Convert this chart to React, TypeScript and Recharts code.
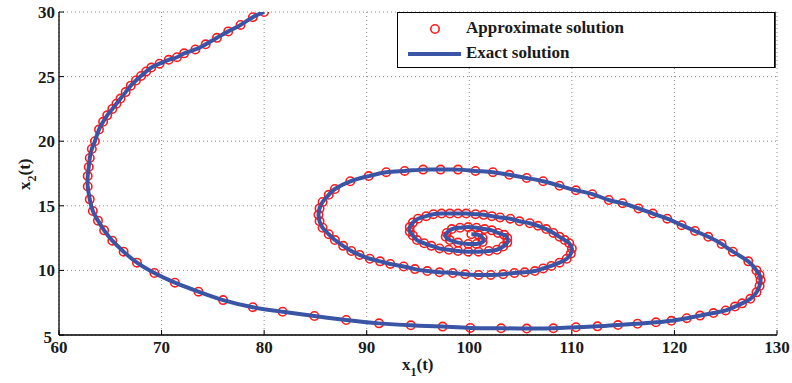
import React from "react";
import {
  CartesianGrid,
  Label,
  Legend,
  Scatter,
  ScatterChart,
  XAxis,
  YAxis,
} from "recharts";

// x1(t) and x2(t), in time order
const x1Values = [
  80, 78.9, 77.7, 76.5, 75.4, 74.3, 73.3, 72.2, 71.5, 70.7, 69.8, 69.0, 68.5, 68.0, 67.5, 67.0,
  66.5, 66.0, 65.6, 65.2, 64.7, 64.3, 63.9, 63.5, 63.2, 63.0, 62.9, 62.8, 62.8, 63.0, 63.3, 63.8,
  64.4, 65.2, 66.3, 67.6, 69.3, 71.3, 73.6, 76.0, 78.9, 81.8, 84.9, 88.0, 91.2, 94.3, 97.4, 100.1,
  103.1, 105.6, 108.2, 110.4, 112.5, 114.5, 116.4, 118.2, 119.7, 121.2, 122.5, 123.8, 125.0, 125.9,
  126.6, 127.4, 128.0, 128.3, 128.4, 128.3, 128.0, 127.2, 125.7, 124.6, 123.3, 122.0, 120.7, 119.3,
  117.9, 116.5, 114.95, 113.6, 112.0, 110.4, 108.8, 107.2, 105.6, 103.9, 102.3, 100.6, 98.9, 97.2,
  95.5, 93.7, 91.9, 90.2, 88.4, 86.9, 86.3, 85.7, 85.4, 85.3, 85.4, 85.7, 86.3, 86.9, 87.7, 88.5,
  89.3, 90.3, 91.3, 92.3, 93.6, 94.7, 95.9, 97.1, 98.4, 99.6, 100.9, 102.1, 103.3, 104.4, 105.4,
  106.4, 107.2, 108.0, 108.8, 109.5, 109.9, 110.0, 109.75, 109.3, 108.8, 108.2, 107.5, 106.7, 105.9,
  104.9, 104.0, 103.0, 102.2, 101.4, 100.6, 99.7, 98.9, 98.1, 97.3, 96.5, 95.8, 95.0, 94.5, 94.2,
  94.2, 94.5, 94.9, 95.6, 96.3, 97.1, 98.0, 98.9, 99.9, 100.9, 101.9, 102.7, 103.3, 103.7, 103.7,
  103.4, 102.8, 102.2, 101.5, 100.7, 99.9, 99.1, 98.3, 97.8, 97.7, 98.1, 98.9, 99.9, 100.7, 101.3,
  101.3, 100.9, 100.2,
];

const x2Values = [
  30, 29.6, 29.0, 28.5, 28.0, 27.5, 27.1, 26.8, 26.5, 26.3, 26.0, 25.7, 25.4, 25.05, 24.7, 24.3,
  23.8, 23.3, 22.9, 22.5, 22.0, 21.5, 20.9, 20.0, 19.4, 18.7, 18.0, 17.3, 16.5, 15.5, 14.6, 13.85,
  13.1, 12.3, 11.45, 10.6, 9.8, 9.05, 8.35, 7.7, 7.15, 6.8, 6.47, 6.16, 5.9, 5.75, 5.65, 5.55,
  5.52, 5.5, 5.52, 5.6, 5.67, 5.77, 5.87, 5.98, 6.1, 6.3, 6.5, 6.7, 6.9, 7.2,
  7.45, 7.8, 8.3, 8.8, 9.25, 9.65, 10.0, 10.7, 11.45, 12.05, 12.6, 13.05, 13.5, 14.0,
  14.4, 14.8, 15.2, 15.45, 15.9, 16.2, 16.55, 16.9, 17.15, 17.4, 17.6, 17.7, 17.8, 17.8,
  17.8, 17.7, 17.6, 17.3, 16.9, 16.3, 15.85, 15.3, 14.8, 14.3, 13.8, 13.3, 12.8, 12.35, 11.9, 11.5,
  11.2, 10.9, 10.7, 10.5, 10.3, 10.1, 9.95, 9.85, 9.8, 9.7, 9.65, 9.65, 9.7, 9.8, 9.85,
  9.95, 10.15, 10.35, 10.6, 10.9, 11.3, 11.7, 12.1, 12.35, 12.6, 12.9, 13.2, 13.45, 13.65,
  13.8, 14.0, 14.1, 14.2, 14.3, 14.35, 14.4, 14.4, 14.4, 14.4, 14.35, 14.2, 14.0, 13.7, 13.35,
  13.0, 12.7, 12.35, 12.1, 11.9, 11.7, 11.6, 11.5, 11.45, 11.45, 11.5, 11.6, 11.85, 12.15, 12.5,
  12.75, 12.9, 13.1, 13.2, 13.3, 13.35, 13.3, 13.2, 12.9, 12.6, 12.35, 12.15, 12.05, 12.05, 12.2,
  12.5, 12.75, 12.8,
];

const xTicks = [60, 70, 80, 90, 100, 110, 120, 130];
const yTicks = [5, 10, 15, 20, 25, 30];

const points = x1Values.map((x, i) => ({ x, y: x2Values[i] }));

const FONT = "'Liberation Serif', 'Times New Roman', serif";
const RED = "#ff1a1a";
const BLUE = "#3b55a6";

const tickStyle = { fill: "#1a1a1a", fontSize: 17, fontWeight: 700, fontFamily: FONT };

function Ring(props: any) {
  const { cx, cy } = props;
  if (cx == null || cy == null) return <g />;
  return <circle cx={cx} cy={cy} r={4.2} fill="none" stroke={RED} strokeWidth={1.6} />;
}

// y tick labels; the bottom "5" sits a bit lower-left like the original
function YTick(props: any) {
  const { x, y, payload } = props;
  const low = payload.value === 5;
  return (
    <text
      x={low ? x - 3 : x}
      y={low ? y + 2 : y}
      dy="0.35em"
      textAnchor="end"
      {...tickStyle}
    >
      {payload.value}
    </text>
  );
}

function LegendBox() {
  const text = { fontFamily: FONT, fontWeight: 700, fontSize: 17, color: "#1a1a1a" };
  return (
    <div
      style={{
        width: 378,
        height: 56,
        boxSizing: "border-box",
        border: "1px solid #000",
        boxShadow: "1px 0 0 #444",
        background: "#fff",
        position: "relative",
      }}
    >
      <svg width={60} height={56} style={{ position: "absolute", left: 8, top: 0 }}>
        <circle cx={29} cy={16} r={4.2} fill="none" stroke={RED} strokeWidth={1.6} />
        <line x1={2} x2={55} y1={41} y2={41} stroke={BLUE} strokeWidth={4} />
      </svg>
      <div style={{ ...text, position: "absolute", left: 68, top: 5 }}>Approximate solution</div>
      <div style={{ ...text, position: "absolute", left: 68, top: 30 }}>Exact solution</div>
    </div>
  );
}

function XLabel(props: any) {
  const vb = props.viewBox || {};
  const cx = vb.x + vb.width / 2;
  return (
    <text x={cx - 16} y={370} fontFamily={FONT} fontWeight={700} fontSize={17} fill="#1a1a1a">
      x<tspan fontSize={12} dy={6}>1</tspan>
      <tspan dy={-6}>(t)</tspan>
    </text>
  );
}

function YLabel() {
  return (
    <text
      x={0}
      y={0}
      transform="translate(30 190) rotate(-90)"
      fontFamily={FONT}
      fontWeight={700}
      fontSize={17}
      fill="#1a1a1a"
    >
      x<tspan fontSize={12} dy={6}>2</tspan>
      <tspan dy={-6}>(t)</tspan>
    </text>
  );
}

export default function App() {
  return (
    <div style={{ position: "absolute", left: 0, top: 0, width: 792, height: 383, background: "#fff" }}>
      <ScatterChart width={792} height={383} margin={{ top: 12, right: 15, bottom: 0, left: 0 }}>
        <CartesianGrid stroke="#8a8a8a" strokeDasharray="1 3" />
        <XAxis
          type="number"
          dataKey="x"
          domain={[60, 130]}
          ticks={xTicks}
          allowDataOverflow
          height={48}
          tickSize={-5}
          tickMargin={11}
          tick={tickStyle}
          axisLine={{ stroke: "#000", strokeWidth: 1.3 }}
          tickLine={{ stroke: "#000" }}
        >
          <Label content={<XLabel />} />
        </XAxis>
        <XAxis
          xAxisId="top"
          orientation="top"
          type="number"
          dataKey="x"
          domain={[60, 130]}
          ticks={xTicks}
          height={0}
          tickSize={-5}
          tickFormatter={() => ""}
          axisLine={{ stroke: "#000", strokeWidth: 1.3 }}
          tickLine={{ stroke: "#000" }}
        />
        <YAxis
          type="number"
          dataKey="y"
          domain={[5, 30]}
          ticks={yTicks}
          allowDataOverflow
          width={59}
          tickSize={-5}
          tickMargin={9}
          tick={<YTick />}
          axisLine={{ stroke: "#000", strokeWidth: 1.3 }}
          tickLine={{ stroke: "#000" }}
        >
          <Label content={<YLabel />} />
        </YAxis>
        <YAxis
          yAxisId="right"
          orientation="right"
          type="number"
          dataKey="y"
          domain={[5, 30]}
          ticks={yTicks}
          width={0}
          tickSize={-5}
          tickFormatter={() => ""}
          axisLine={{ stroke: "#000", strokeWidth: 1.3 }}
          tickLine={{ stroke: "#000" }}
        />
        <Scatter
          name="Approximate solution"
          data={points}
          shape={<Ring />}
          isAnimationActive={false}
        />
        <Scatter
          name="Exact solution"
          data={points}
          line={{ stroke: BLUE, strokeWidth: 4 }}
          lineJointType="natural"
          shape={() => <g />}
          isAnimationActive={false}
        />
        <Legend
          layout="vertical"
          align="center"
          verticalAlign="middle"
          wrapperStyle={{ left: 397, top: 12, width: 378, height: 56 }}
          content={() => <LegendBox />}
        />
      </ScatterChart>
    </div>
  );
}
